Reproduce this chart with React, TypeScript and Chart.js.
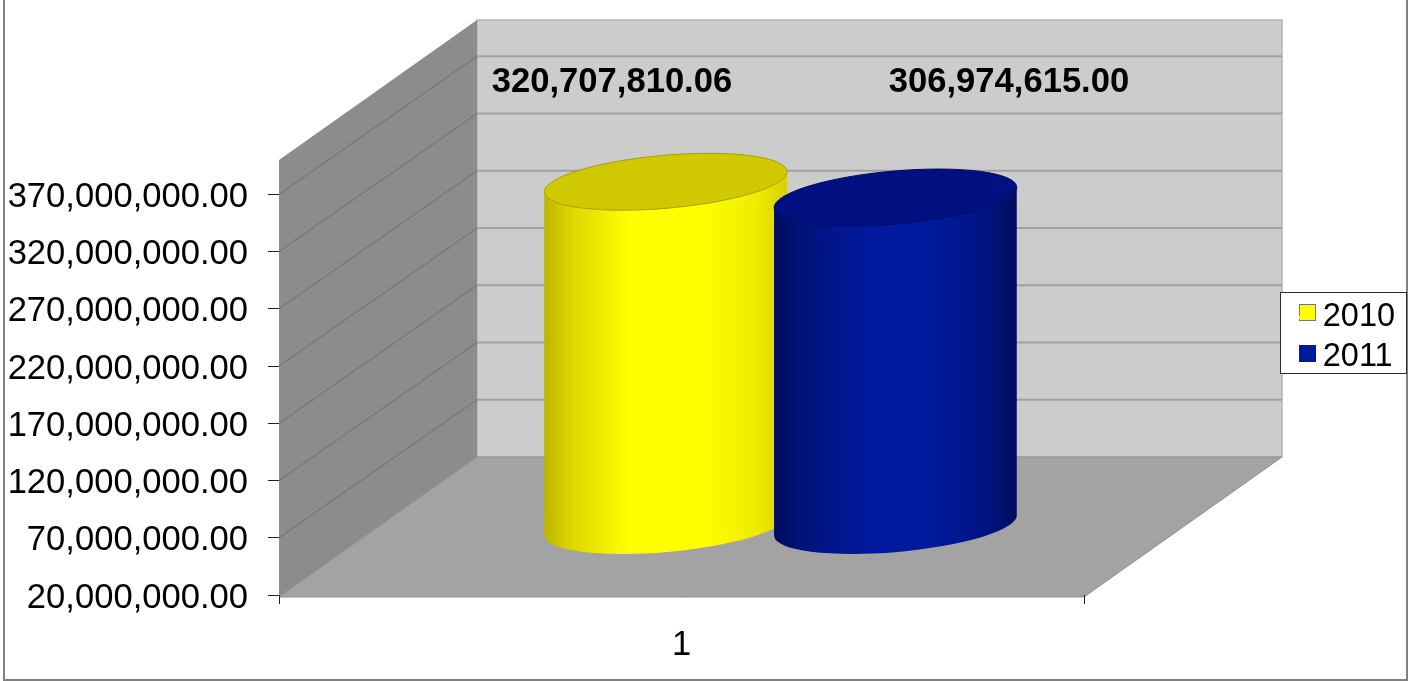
import React, { useEffect, useRef } from "react";
import { Chart, registerables } from "chart.js";

Chart.register(...registerables);

const categories = ["1"];
const seriesNames = ["2010", "2011"];
const seriesColors = ["#ffff00", "#001a9e"];
const values2010 = [320707810.06];
const values2011 = [306974615.0];
const yTicks = [20e6, 70e6, 120e6, 170e6, 220e6, 270e6, 320e6, 370e6];
const yMax = 400e6;

const FONT = '"Liberation Sans", Arial, sans-serif';
const money = (v: number) =>
  v.toLocaleString("en-US", { minimumFractionDigits: 2, maximumFractionDigits: 2 });

// Oblique projection of the 3D box: how far the back plane sits from the front plane.
const DEPTH_X = 198;
const DEPTH_Y = -138;
const BAR_DEPTH = 0.5;
const TILT = (-5 * Math.PI) / 180;
const ELLIPSE_RX_RATIO = 0.53;
const ELLIPSE_RY = 26.5;

const cylinderStyles = [
  {
    top: "#d0c800",
    outline: "#a8a000",
    stops: [[0, "#bdb500"], [0.12, "#e0d800"], [0.35, "#ffff00"], [0.65, "#ffff00"], [0.88, "#f0ea00"], [1, "#d8d000"]],
  },
  {
    top: "#001080",
    outline: "#000c60",
    stops: [[0, "#000d5c"], [0.12, "#00137c"], [0.4, "#001a9e"], [0.65, "#001a9e"], [0.88, "#00137e"], [1, "#000f60"]],
  },
];
const labelCentersX = [612, 1009];
const labelBaselineY = 92;

const legendPanel = { x: 1280, y: 292, w: 126, h: 81 };
const swatches = [
  { x: 1299, y: 304, size: 16, border: "#777777" },
  { x: 1299, y: 345, size: 16, border: "#1a1a50" },
];

const drawWalls = (chart: any) => {
  const { ctx, chartArea: a, scales } = chart;
  const y = scales.y;
  const backLeft = a.left + DEPTH_X;
  const backRight = a.right + DEPTH_X;
  const backTop = a.top + DEPTH_Y - 2;
  const backBottom = a.bottom + DEPTH_Y;

  ctx.save();
  // Outer chart frame
  ctx.strokeStyle = "#808080";
  ctx.lineWidth = 2;
  ctx.strokeRect(4, -2, 1403, 682);

  // Back wall
  ctx.fillStyle = "#cccccc";
  ctx.fillRect(backLeft, backTop, a.right - a.left, backBottom - backTop);
  ctx.strokeStyle = "#b4b4b4";
  ctx.lineWidth = 1.5;
  ctx.strokeRect(backLeft, backTop, a.right - a.left, backBottom - backTop);

  // Side wall
  ctx.fillStyle = "#8c8c8c";
  ctx.beginPath();
  ctx.moveTo(a.left, a.top);
  ctx.lineTo(backLeft, backTop);
  ctx.lineTo(backLeft, backBottom);
  ctx.lineTo(a.left, a.bottom + 2);
  ctx.closePath();
  ctx.fill();

  // Floor
  ctx.fillStyle = "#a3a3a3";
  ctx.strokeStyle = "#8e8e8e";
  ctx.lineWidth = 1;
  ctx.beginPath();
  ctx.moveTo(a.left, a.bottom + 2);
  ctx.lineTo(backLeft, backBottom);
  ctx.lineTo(backRight, backBottom);
  ctx.lineTo(a.right, a.bottom + 2);
  ctx.closePath();
  ctx.fill();
  ctx.stroke();

  // Grid lines run along the side wall and across the back wall
  yTicks.slice(1).forEach((t) => {
    const py = y.getPixelForValue(t);
    ctx.strokeStyle = "#6e6e6e";
    ctx.lineWidth = 1;
    ctx.beginPath();
    ctx.moveTo(a.left, py);
    ctx.lineTo(backLeft, py + DEPTH_Y);
    ctx.stroke();
    ctx.strokeStyle = "#a0a0a0";
    ctx.lineWidth = 2;
    ctx.beginPath();
    ctx.moveTo(backLeft, py + DEPTH_Y);
    ctx.lineTo(backRight, py + DEPTH_Y);
    ctx.stroke();
  });

  // Legend panel and its colour keys
  ctx.fillStyle = "#ffffff";
  ctx.fillRect(legendPanel.x, legendPanel.y, legendPanel.w, legendPanel.h);
  ctx.strokeStyle = "#2a2a2a";
  ctx.lineWidth = 1;
  ctx.strokeRect(legendPanel.x + 0.5, legendPanel.y + 0.5, legendPanel.w, legendPanel.h);
  swatches.forEach((s, i) => {
    ctx.fillStyle = seriesColors[i];
    ctx.fillRect(s.x, s.y, s.size, s.size);
    ctx.strokeStyle = s.border;
    ctx.strokeRect(s.x + 0.5, s.y + 0.5, s.size, s.size);
  });
  ctx.restore();
};

const drawCylinder = (ctx: any, bar: any, style: any) => {
  const cx = bar.x + DEPTH_X * BAR_DEPTH;
  const topY = bar.y + DEPTH_Y * BAR_DEPTH;
  const baseY = bar.base + DEPTH_Y * BAR_DEPTH;
  const rx = bar.width * ELLIPSE_RX_RATIO;
  const halfW = Math.sqrt(rx * rx * Math.cos(TILT) ** 2 + ELLIPSE_RY ** 2 * Math.sin(TILT) ** 2);
  const edgeDy = ((rx * rx - ELLIPSE_RY ** 2) * Math.sin(TILT) * Math.cos(TILT)) / halfW;

  const grad = ctx.createLinearGradient(cx - halfW, 0, cx + halfW, 0);
  style.stops.forEach(([o, c]: [number, string]) => grad.addColorStop(o, c));

  ctx.save();
  ctx.fillStyle = grad;
  ctx.beginPath();
  ctx.ellipse(cx, baseY, rx, ELLIPSE_RY, TILT, 0, Math.PI * 2);
  ctx.fill();
  ctx.beginPath();
  ctx.moveTo(cx - halfW, topY - edgeDy);
  ctx.lineTo(cx + halfW, topY + edgeDy);
  ctx.lineTo(cx + halfW, baseY + edgeDy);
  ctx.lineTo(cx - halfW, baseY - edgeDy);
  ctx.closePath();
  ctx.fill();

  ctx.fillStyle = style.top;
  ctx.strokeStyle = style.outline;
  ctx.lineWidth = 1;
  ctx.beginPath();
  ctx.ellipse(cx, topY, rx, ELLIPSE_RY, TILT, 0, Math.PI * 2);
  ctx.fill();
  ctx.stroke();
  ctx.restore();
};

const box3d = {
  id: "box3d",
  afterLayout(chart: any) {
    // The legend floats beside the back wall instead of taking layout room.
    const lg = chart.legend;
    lg.left = 1292;
    lg.right = 1406;
    lg.top = 294;
    lg.bottom = 440;
  },
  beforeDraw: drawWalls,
  beforeDatasetDraw: () => false,
  afterDatasetsDraw(chart: any) {
    const { ctx } = chart;
    chart.data.datasets.forEach((ds: any, i: number) => {
      const bar = chart.getDatasetMeta(i).data[0];
      drawCylinder(ctx, bar, cylinderStyles[i]);
      ctx.save();
      ctx.font = `bold 34.6px ${FONT}`;
      ctx.fillStyle = "#000000";
      ctx.textAlign = "center";
      ctx.textBaseline = "alphabetic";
      ctx.fillText(money(ds.data[0]), labelCentersX[i], labelBaselineY);
      ctx.restore();
    });
  },
};

export default function App() {
  const ref = useRef<HTMLCanvasElement>(null);

  useEffect(() => {
    document.body.style.margin = "0";
    const chart = new Chart(ref.current as HTMLCanvasElement, {
      type: "bar",
      data: {
        labels: categories,
        datasets: [
          { label: seriesNames[0], data: values2010, base: yTicks[0], backgroundColor: seriesColors[0], borderWidth: 0 },
          { label: seriesNames[1], data: values2011, base: yTicks[0], backgroundColor: seriesColors[1], borderWidth: 0 },
        ],
      },
      options: {
        animation: false,
        responsive: false,
        layout: { padding: { top: 160, right: 324, left: 0, bottom: 0 } },
        datasets: { bar: { barPercentage: 1, categoryPercentage: 0.571 } },
        scales: {
          x: {
            afterFit: (s: any) => { s.height = 86; },
            grid: { offset: true, drawOnChartArea: false, tickLength: 9, tickColor: "#222222" },
            border: { display: false },
            ticks: { color: "#000000", padding: 21, maxRotation: 0, font: { family: FONT, size: 34.6 } },
          },
          y: {
            min: yTicks[0],
            max: yMax,
            afterFit: (s: any) => { s.width = 279; },
            afterBuildTicks: (s: any) => { s.ticks = yTicks.map((value) => ({ value })); },
            grid: { drawOnChartArea: false, tickLength: 11, tickColor: "#222222" },
            border: { display: false },
            ticks: {
              color: "#000000",
              padding: 20,
              labelOffset: 3,
              autoSkip: false,
              font: { family: FONT, size: 34.6 },
              callback: (v: any) => money(Number(v)),
            },
          },
        },
        plugins: {
          tooltip: { enabled: false },
          legend: {
            position: "chartArea",
            align: "start",
            labels: {
              color: "#000000",
              boxWidth: 7.5,
              boxHeight: 3,
              padding: 7,
              font: { family: FONT, size: 32.5 },
            },
          },
        },
      },
      plugins: [box3d],
    } as any);
    return () => chart.destroy();
  }, []);

  return <canvas ref={ref} width={1408} height={681} style={{ display: "block" }} />;
}
